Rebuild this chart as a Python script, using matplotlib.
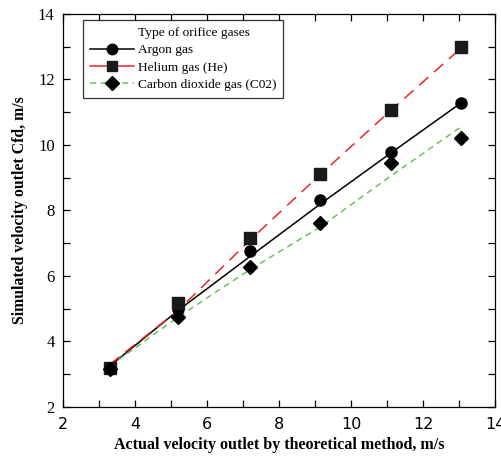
import matplotlib
matplotlib.use("Agg")
import matplotlib.pyplot as plt
from matplotlib.lines import Line2D
from matplotlib.ticker import MultipleLocator

# data
x_vals = [3.3, 5.2, 7.2, 9.15, 11.1, 13.05]

# CFD points (markers)
argon_pts = [3.2, 5.0, 6.75, 8.33, 9.8, 11.28]
helium_pts = [3.2, 5.18, 7.15, 9.12, 11.08, 13.0]
co2_pts = [3.15, 4.76, 6.27, 7.63, 9.45, 10.22]

# theoretical lines
argon_line = [3.25, 4.95, 6.6, 8.2, 9.75, 11.28]
helium_line = [3.3, 4.95, 7.1, 9.1, 11.05, 12.95]
co2_line = [3.25, 4.75, 6.2, 7.5, 9.05, 10.55]

legend_title = "Type of orifice gases"
legend_labels = ["Argon gas", "Helium gas (He)", "Carbon dioxide gas (C02)"]

plt.rcParams['font.family'] = ['Liberation Serif', 'DejaVu Serif']

fig = plt.figure(figsize=(5.01, 4.59), dpi=100)
ax = fig.add_axes([0.1257, 0.1133, 0.8623, 0.8562])

# lines
ax.plot(x_vals, argon_line, color="black", linestyle="-", linewidth=1.1)
ax.plot(x_vals, helium_line, color="#e8262b", linestyle=(0, (8, 5)), linewidth=1.1)
ax.plot(x_vals, co2_line, color="#6cc25a", linestyle=(0, (4, 3)), linewidth=1.1)

# markers
ax.plot(x_vals, argon_pts, linestyle="none", marker="o", markersize=8, color="black")
ax.plot(x_vals, helium_pts, linestyle="none", marker="s", markersize=8.3, color="#1a1a1a")
ax.plot(x_vals, co2_pts, linestyle="none", marker="D", markersize=7.5, color="black")

# legend: title as a handle-less first row so it lines up with the labels
h0 = Line2D([], [], linestyle="none", marker="none")
h1 = Line2D([], [], color="black", linestyle="-", marker="o", markersize=7.5, linewidth=1.1)
h2 = Line2D([], [], color="#e8262b", linestyle="-", marker="s", markersize=7.5,
            markerfacecolor="#1a1a1a", markeredgecolor="#1a1a1a", linewidth=1.1)
h3 = Line2D([], [], color="#6cc25a", linestyle=(0, (4, 3)), marker="D", markersize=7,
            markerfacecolor="black", markeredgecolor="black", linewidth=1.1)
leg = ax.legend([h0, h1, h2, h3], [legend_title] + legend_labels,
                loc="upper left", bbox_to_anchor=(0.046, 0.985), fontsize=9.6,
                frameon=True, fancybox=False, edgecolor="black",
                handlelength=3.3, borderpad=0.5, labelspacing=0.38, handletextpad=0.35,
                borderaxespad=0)
leg.get_frame().set_linewidth(0.9)

ax.set_xlim(2, 14)
ax.set_ylim(2, 14)
ax.xaxis.set_major_locator(MultipleLocator(2))
ax.xaxis.set_minor_locator(MultipleLocator(1))
ax.yaxis.set_major_locator(MultipleLocator(2))
ax.yaxis.set_minor_locator(MultipleLocator(1))
ax.tick_params(which="both", direction="in", top=True, right=True, length=5, width=0.9)
ax.tick_params(axis="y", labelsize=12, pad=6)
ax.tick_params(axis="x", labelsize=12, pad=7)
for lab in ax.get_xticklabels():
    lab.set_family("DejaVu Sans")
    lab.set_fontsize(11.5)
for sp in ax.spines.values():
    sp.set_linewidth(0.9)

ax.set_xlabel("Actual velocity outlet by theoretical method, m/s", fontsize=11.5,
              fontweight="bold", labelpad=4)
ax.set_ylabel("Simulated velocity outlet Cfd, m/s", fontsize=11.3, fontweight="bold",
              labelpad=7)

fig.savefig("out.png", dpi=100)
